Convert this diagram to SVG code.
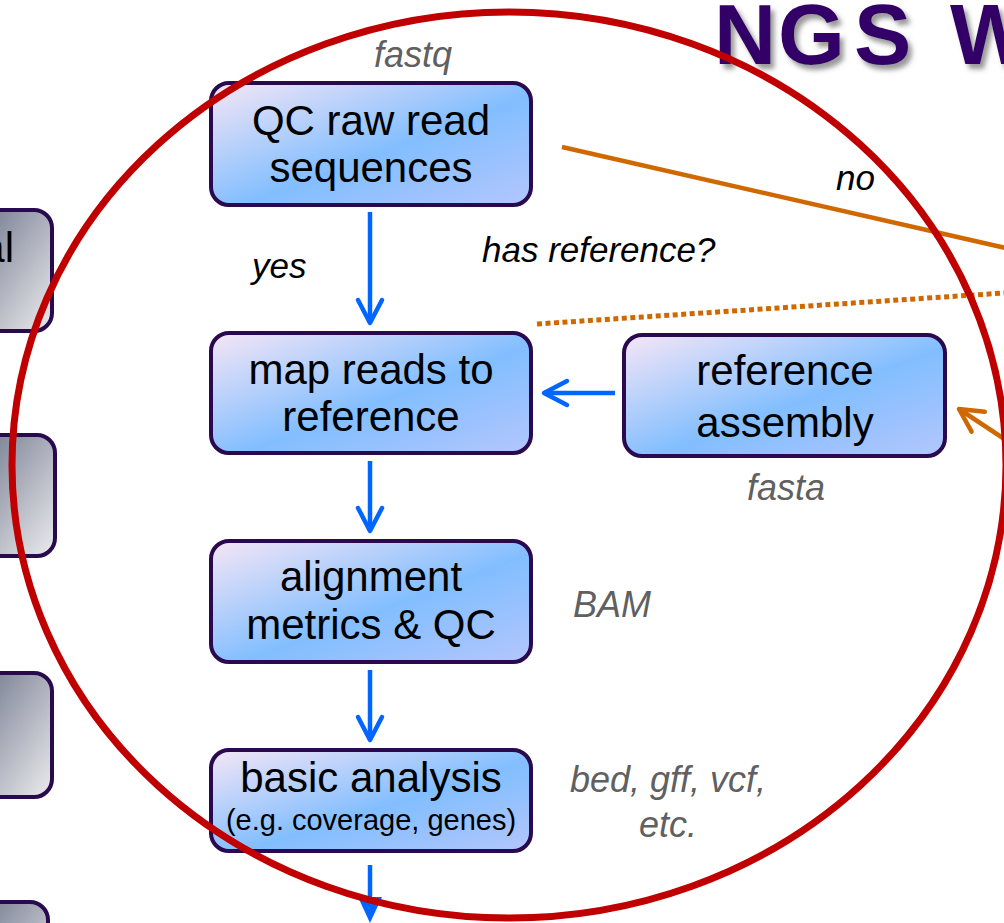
<svg xmlns="http://www.w3.org/2000/svg" width="1004" height="923" viewBox="0 0 1004 923">
<defs>
  <linearGradient id="blueFill" x1="0" y1="0" x2="1" y2="1">
    <stop offset="0" stop-color="#f6e6f6"/>
    <stop offset="0.55" stop-color="#82beff"/>
    <stop offset="1" stop-color="#b4c6fd"/>
  </linearGradient>
  <linearGradient id="grayFill" x1="0" y1="0" x2="1" y2="1">
    <stop offset="0" stop-color="#dcdde3"/>
    <stop offset="0.15" stop-color="#7f8598"/>
    <stop offset="1" stop-color="#ececee"/>
  </linearGradient>
  <filter id="shadow" x="-10%" y="-20%" width="130%" height="150%">
    <feDropShadow dx="4" dy="5" stdDeviation="2.5" flood-color="#555" flood-opacity="0.6"/>
  </filter>
  <marker id="blueHead" markerUnits="userSpaceOnUse" markerWidth="40" markerHeight="40" refX="0" refY="0" orient="auto" overflow="visible">
    <path d="M-23,-12 L0,0 L-23,12" fill="none" stroke="#0066ff" stroke-width="4.5" stroke-linecap="round" stroke-linejoin="round"/>
  </marker>
  <marker id="orangeHead" markerUnits="userSpaceOnUse" markerWidth="40" markerHeight="40" refX="0" refY="0" orient="auto" overflow="visible">
    <path d="M-23,-12 L0,0 L-23,12" fill="none" stroke="#d06800" stroke-width="4.5" stroke-linecap="round" stroke-linejoin="round"/>
  </marker>
  <style>
    .box { fill: url(#blueFill); stroke: #2a0a4e; stroke-width: 4; }
    .gbox { fill: url(#grayFill); stroke: #2a0a4e; stroke-width: 4; }
    .t { font-family: "Liberation Sans", Arial, sans-serif; font-size: 42px; fill: #000; text-anchor: middle; }
    .ts { font-family: "Liberation Sans", Arial, sans-serif; font-size: 29px; fill: #000; text-anchor: middle; }
    .lbl { font-family: "Liberation Sans", Arial, sans-serif; font-size: 36px; font-style: italic; fill: #606060; text-anchor: middle; }
    .cond { font-family: "Liberation Sans", Arial, sans-serif; font-size: 35px; font-style: italic; fill: #000; }
    .blue { fill: none; stroke: #0066ff; stroke-width: 4.5; }
    .orange { fill: none; stroke: #d06800; stroke-width: 4.5; }
  </style>
</defs>
<rect width="1004" height="923" fill="#ffffff"/>

<g id="title">
  <text y="64" font-family="Liberation Sans, Arial, sans-serif" font-weight="bold" font-size="86" fill="#330066" filter="url(#shadow)"><tspan x="714">N</tspan><tspan x="778">G</tspan><tspan x="854">S</tspan><tspan x="950">W</tspan></text>
</g>

<g id="side-boxes">
  <g id="side1">
    <rect class="gbox" x="-30" y="210" width="82" height="121" rx="18"/>
    <text class="t" x="14" y="262" style="text-anchor:end">al</text>
  </g>
  <g id="side2"><rect class="gbox" x="-30" y="435" width="85" height="121" rx="18"/></g>
  <g id="side3"><rect class="gbox" x="-30" y="673" width="82" height="124" rx="18"/></g>
  <g id="side4"><rect class="gbox" x="-30" y="902" width="78" height="100" rx="18"/></g>
</g>

<g id="connectors">
  <line class="blue" x1="370" y1="212" x2="370" y2="323" marker-end="url(#blueHead)"/>
  <line class="blue" x1="370" y1="461" x2="370" y2="531" marker-end="url(#blueHead)"/>
  <line class="blue" x1="370" y1="670" x2="370" y2="740" marker-end="url(#blueHead)"/>
  <line class="blue" x1="615" y1="393" x2="544" y2="393" marker-end="url(#blueHead)"/>
  <line class="blue" x1="370" y1="865" x2="370" y2="900"/>
  <path d="M358,897 L382,897 L370,923 Z" fill="#0066ff"/>
  <line class="orange" x1="562" y1="147" x2="1010" y2="249"/>
  <line x1="537" y1="324" x2="1004" y2="293" stroke="#d06800" stroke-width="5" stroke-dasharray="5 3.5"/>
  <line class="orange" x1="1012" y1="444" x2="959" y2="409" marker-end="url(#orangeHead)"/>
</g>

<g id="labels">
  <text class="lbl" x="413" y="67">fastq</text>
  <text class="cond" x="252" y="278">yes</text>
  <text class="cond" x="482" y="262">has reference?</text>
  <text class="cond" x="836" y="190">no</text>
  <text class="lbl" x="786" y="500">fasta</text>
  <text class="lbl" x="612" y="617">BAM</text>
  <text class="lbl" x="668" y="792">bed, gff, vcf,</text>
  <text class="lbl" x="668" y="837">etc.</text>
</g>

<g id="qc-raw">
  <rect class="box" x="211" y="83" width="320" height="122" rx="18"/>
  <text class="t" x="371" y="135">QC raw read</text>
  <text class="t" x="371" y="182">sequences</text>
</g>
<g id="map-reads">
  <rect class="box" x="211" y="333" width="320" height="120" rx="18"/>
  <text class="t" x="371" y="384">map reads to</text>
  <text class="t" x="371" y="431">reference</text>
</g>
<g id="align-qc">
  <rect class="box" x="211" y="541" width="320" height="121" rx="18"/>
  <text class="t" x="371" y="591">alignment</text>
  <text class="t" x="371" y="639">metrics &amp; QC</text>
</g>
<g id="basic-analysis">
  <rect class="box" x="211" y="750" width="320" height="101" rx="18"/>
  <text class="t" x="371" y="792">basic analysis</text>
  <text class="ts" x="371" y="830">(e.g. coverage, genes)</text>
</g>
<g id="ref-assembly">
  <rect class="box" x="624" y="335" width="321" height="121" rx="18"/>
  <text class="t" x="785" y="385">reference</text>
  <text class="t" x="785" y="437">assembly</text>
</g>

<g id="highlight">
  <ellipse cx="509" cy="465" rx="497" ry="453" fill="none" stroke="#c00000" stroke-width="7"/>
</g>
</svg>
